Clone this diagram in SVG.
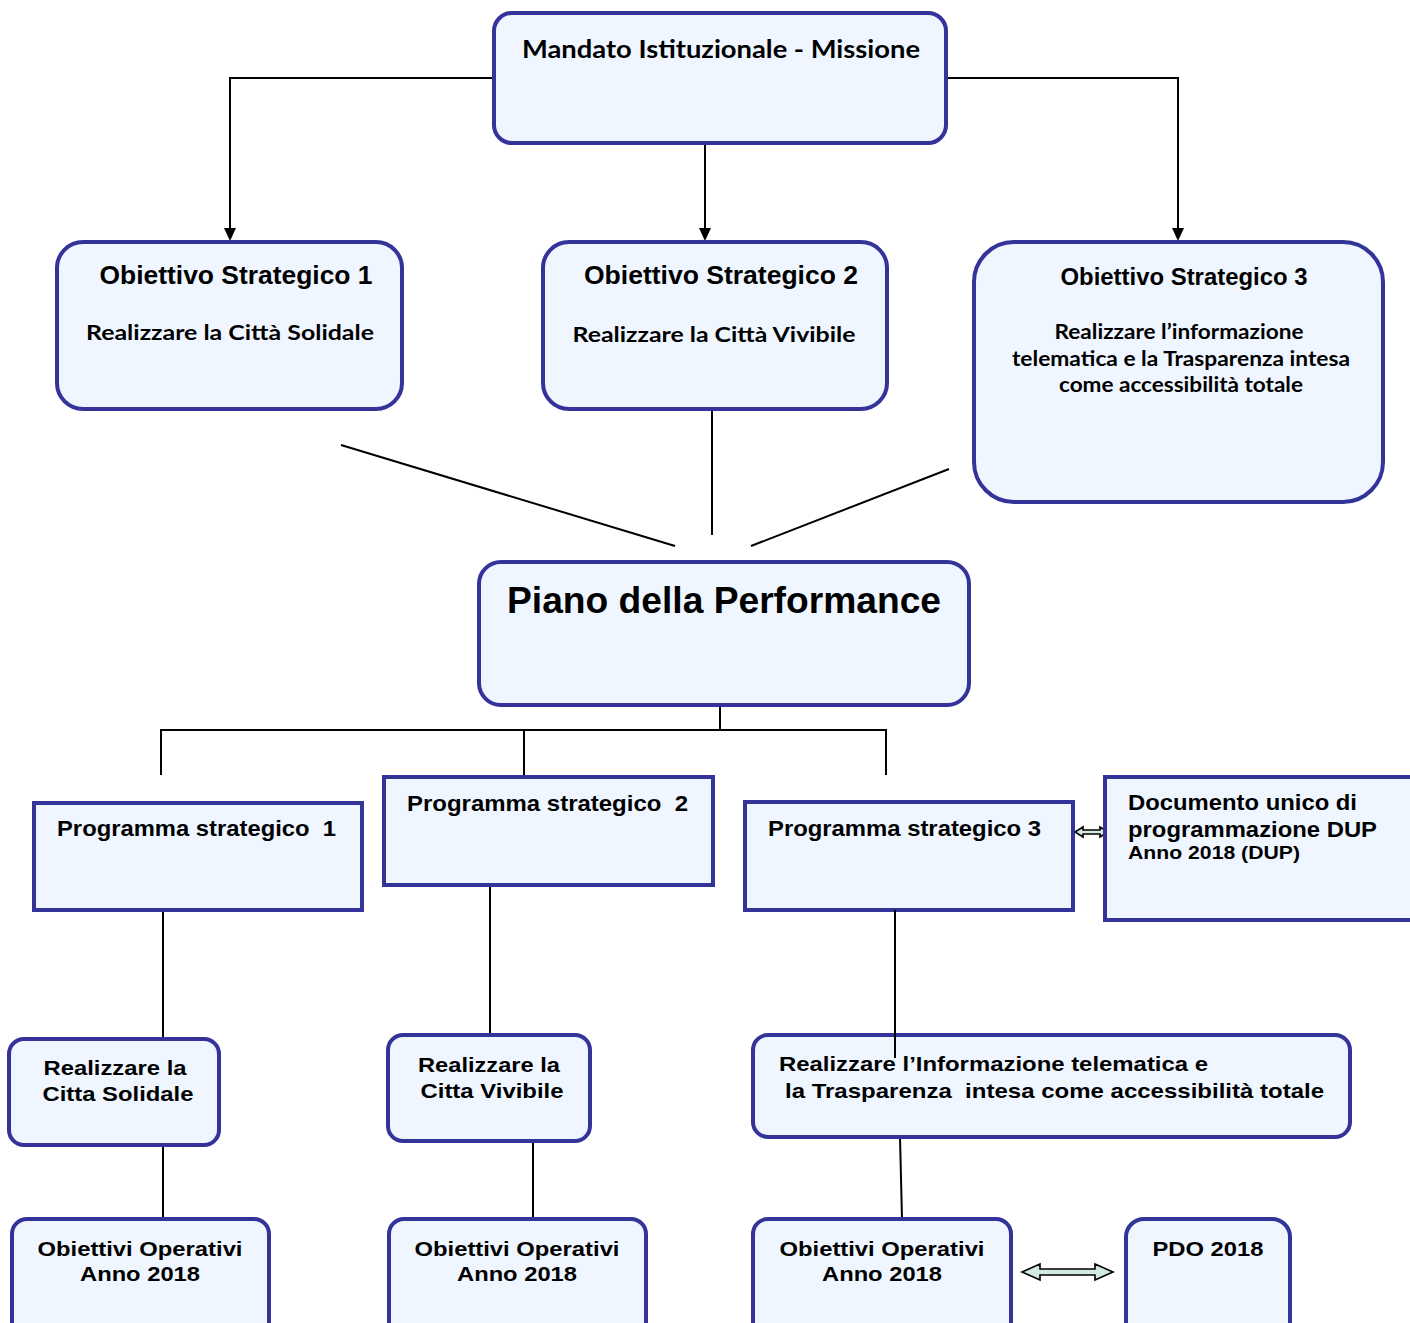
<svg xmlns="http://www.w3.org/2000/svg" width="1410" height="1323" viewBox="0 0 1410 1323">
<defs>
<style>
.box{fill:#EFF6FF;stroke:#333399;stroke-width:4}
.ln{fill:none;stroke:#000;stroke-width:2}
.dbl{fill:#D3EAE1;stroke:#000;stroke-width:1.6;stroke-linejoin:miter}
.ar{font-family:"Liberation Sans",Arial,sans-serif;font-weight:bold;fill:#000}
.ca{font-family:Lato,"Open Sans",sans-serif;font-weight:bold;fill:#000}
.head{fill:#000}
</style>
</defs>
<rect width="1410" height="1323" fill="#fff"/>

<g id="connectors">
<polyline class="ln" points="494,78 230,78 230,229"/>
<path class="head" d="M224,228 L236,228 L230,241 z"/>
<line class="ln" x1="705" y1="143" x2="705" y2="229"/>
<path class="head" d="M699,228 L711,228 L705,241 z"/>
<polyline class="ln" points="946,78 1178,78 1178,229"/>
<path class="head" d="M1172,228 L1184,228 L1178,241 z"/>
<line class="ln" x1="341" y1="445" x2="675" y2="546"/>
<line class="ln" x1="712" y1="409" x2="712" y2="535"/>
<line class="ln" x1="949" y1="469" x2="751" y2="546"/>
<line class="ln" x1="720" y1="705" x2="720" y2="730"/>
<polyline class="ln" points="161,775 161,730 886,730 886,775"/>
<line class="ln" x1="524" y1="730" x2="524" y2="777"/>
<line class="ln" x1="163" y1="910" x2="163" y2="1039"/>
<line class="ln" x1="490" y1="885" x2="490" y2="1035"/>
<line class="ln" x1="163" y1="1145" x2="163" y2="1219"/>
<line class="ln" x1="533" y1="1141" x2="533" y2="1219"/>
<line class="ln" x1="900" y1="1137" x2="902" y2="1219"/>
<polygon class="dbl" points="1075,832 1083,827 1083,830 1100,830 1100,827 1108,832 1100,837 1100,834 1083,834 1083,837"/>
<polygon class="dbl" points="1022,1272 1040,1264 1040,1269 1095,1269 1095,1264 1113,1272 1095,1280 1095,1275 1040,1275 1040,1280"/>
</g>

<g id="mandato">
<rect class="box" x="494" y="13" width="452" height="130" rx="18"/>
<text class="ca" x="721" y="58" font-size="25" text-anchor="middle" textLength="398" lengthAdjust="spacingAndGlyphs">Mandato Istituzionale - Missione</text>
</g>

<g id="obiettivo1">
<rect class="box" x="57" y="242" width="345" height="167" rx="26"/>
<text class="ar" x="236" y="284" font-size="25" text-anchor="middle" textLength="273" lengthAdjust="spacingAndGlyphs">Obiettivo Strategico 1</text>
<text class="ca" x="230" y="340" font-size="21" text-anchor="middle" textLength="288" lengthAdjust="spacingAndGlyphs">Realizzare la Città Solidale</text>
</g>

<g id="obiettivo2">
<rect class="box" x="543" y="242" width="344" height="167" rx="26"/>
<text class="ar" x="721" y="284" font-size="25" text-anchor="middle" textLength="274" lengthAdjust="spacingAndGlyphs">Obiettivo Strategico 2</text>
<text class="ca" x="714" y="342" font-size="21" text-anchor="middle" textLength="283" lengthAdjust="spacingAndGlyphs">Realizzare la Città Vivibile</text>
</g>

<g id="obiettivo3">
<rect class="box" x="974" y="242" width="409" height="260" rx="40"/>
<text class="ar" x="1184" y="285" font-size="23" text-anchor="middle" textLength="247" lengthAdjust="spacingAndGlyphs">Obiettivo Strategico 3</text>
<text class="ca" x="1179" y="339" font-size="20" text-anchor="middle" textLength="249" lengthAdjust="spacingAndGlyphs">Realizzare l’informazione</text>
<text class="ca" x="1181" y="366" font-size="20" text-anchor="middle" textLength="338" lengthAdjust="spacingAndGlyphs">telematica e la Trasparenza intesa</text>
<text class="ca" x="1181" y="392" font-size="20" text-anchor="middle" textLength="244" lengthAdjust="spacingAndGlyphs">come accessibilità totale</text>
</g>

<g id="piano">
<rect class="box" x="479" y="562" width="490" height="143" rx="22"/>
<text class="ar" x="724" y="613" font-size="36" text-anchor="middle" textLength="434" lengthAdjust="spacingAndGlyphs">Piano della Performance</text>
</g>

<g id="programma1">
<rect class="box" x="34" y="803" width="328" height="107"/>
<text class="ar" x="57" y="836" font-size="22" textLength="279" lengthAdjust="spacingAndGlyphs" xml:space="preserve">Programma strategico  1</text>
</g>

<g id="programma2">
<rect class="box" x="384" y="777" width="329" height="108"/>
<text class="ar" x="407" y="811" font-size="22" textLength="281" lengthAdjust="spacingAndGlyphs" xml:space="preserve">Programma strategico  2</text>
</g>

<g id="programma3">
<rect class="box" x="745" y="802" width="328" height="108"/>
<text class="ar" x="768" y="836" font-size="22" textLength="273" lengthAdjust="spacingAndGlyphs">Programma strategico 3</text>
</g>

<g id="dup">
<rect class="box" x="1105" y="777" width="320" height="143"/>
<text class="ar" x="1128" y="810" font-size="22" textLength="229" lengthAdjust="spacingAndGlyphs">Documento unico di</text>
<text class="ar" x="1128" y="837" font-size="22" textLength="249" lengthAdjust="spacingAndGlyphs">programmazione DUP</text>
<text class="ar" x="1128" y="859" font-size="18" textLength="172" lengthAdjust="spacingAndGlyphs">Anno 2018 (DUP)</text>
</g>

<g id="realizzare1">
<rect class="box" x="9" y="1039" width="210" height="106" rx="15"/>
<text class="ar" x="115" y="1075" font-size="21" text-anchor="middle" textLength="143" lengthAdjust="spacingAndGlyphs">Realizzare la</text>
<text class="ar" x="118" y="1101" font-size="21" text-anchor="middle" textLength="151" lengthAdjust="spacingAndGlyphs">Citta Solidale</text>
</g>

<g id="realizzare2">
<rect class="box" x="388" y="1035" width="202" height="106" rx="15"/>
<text class="ar" x="489" y="1072" font-size="21" text-anchor="middle" textLength="142" lengthAdjust="spacingAndGlyphs">Realizzare la</text>
<text class="ar" x="492" y="1098" font-size="21" text-anchor="middle" textLength="143" lengthAdjust="spacingAndGlyphs">Citta Vivibile</text>
</g>

<g id="realizzare3">
<rect class="box" x="753" y="1035" width="597" height="102" rx="15"/>
<text class="ar" x="779" y="1071" font-size="21" textLength="429" lengthAdjust="spacingAndGlyphs">Realizzare l’Informazione telematica e</text>
<text class="ar" x="785" y="1098" font-size="21" textLength="539" lengthAdjust="spacingAndGlyphs" xml:space="preserve">la Trasparenza  intesa come accessibilità totale</text>
</g>

<g id="connector-overlay">
<line class="ln" x1="895" y1="910" x2="895" y2="1058"/>
</g>

<g id="operativi1">
<rect class="box" x="12" y="1219" width="257" height="130" rx="15"/>
<text class="ar" x="140" y="1256" font-size="21" text-anchor="middle" textLength="205" lengthAdjust="spacingAndGlyphs">Obiettivi Operativi</text>
<text class="ar" x="140" y="1281" font-size="21" text-anchor="middle" textLength="120" lengthAdjust="spacingAndGlyphs">Anno 2018</text>
</g>

<g id="operativi2">
<rect class="box" x="389" y="1219" width="257" height="130" rx="15"/>
<text class="ar" x="517" y="1256" font-size="21" text-anchor="middle" textLength="205" lengthAdjust="spacingAndGlyphs">Obiettivi Operativi</text>
<text class="ar" x="517" y="1281" font-size="21" text-anchor="middle" textLength="120" lengthAdjust="spacingAndGlyphs">Anno 2018</text>
</g>

<g id="operativi3">
<rect class="box" x="753" y="1219" width="258" height="130" rx="15"/>
<text class="ar" x="882" y="1256" font-size="21" text-anchor="middle" textLength="205" lengthAdjust="spacingAndGlyphs">Obiettivi Operativi</text>
<text class="ar" x="882" y="1281" font-size="21" text-anchor="middle" textLength="120" lengthAdjust="spacingAndGlyphs">Anno 2018</text>
</g>

<g id="pdo">
<rect class="box" x="1126" y="1219" width="164" height="130" rx="18"/>
<text class="ar" x="1208" y="1256" font-size="21" text-anchor="middle" textLength="111" lengthAdjust="spacingAndGlyphs">PDO 2018</text>
</g>
</svg>
